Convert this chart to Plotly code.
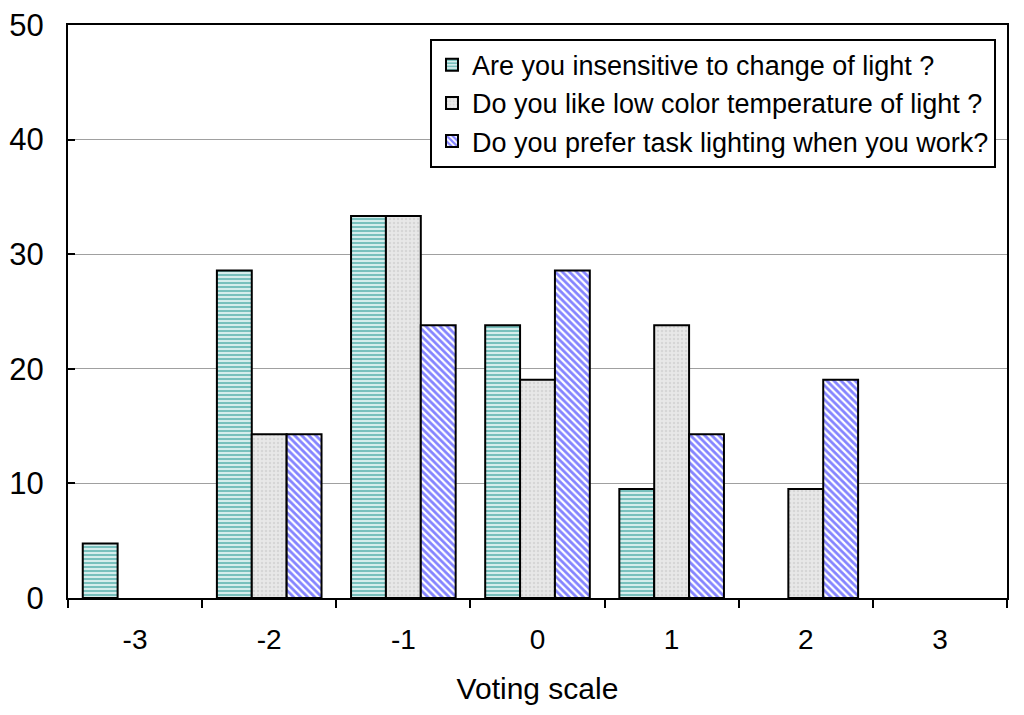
import plotly.graph_objects as go

categories = ["-3", "-2", "-1", "0", "1", "2", "3"]
insensitive = [4.76, 28.57, 33.33, 23.81, 9.52, None, None]
low_color_temp = [None, 14.29, 33.33, 19.05, 23.81, 9.52, None]
task_lighting = [None, 14.29, 23.81, 28.57, 14.29, 19.05, None]
names = ["Are you insensitive to change of light ?",
         "Do you like low color temperature of light ?",
         "Do you prefer task lighting when you work?"]

fig = go.Figure()
fig.add_bar(x=categories, y=insensitive, name=names[0],
            marker=dict(color="#d9efee", line=dict(color="black", width=2),
                        pattern=dict(shape="-", fgcolor="#128e8a", bgcolor="#dff2f1",
                                     size=4, solidity=0.55)))
fig.add_bar(x=categories, y=low_color_temp, name=names[1],
            marker=dict(color="#e4e4e4", line=dict(color="black", width=2),
                        pattern=dict(shape=".", fgcolor="#c4c4c4", bgcolor="#e8e8e8",
                                     size=4, solidity=0.3)))
fig.add_bar(x=categories, y=task_lighting, name=names[2],
            marker=dict(color="white", line=dict(color="black", width=2),
                        pattern=dict(shape="\\", fgcolor="#0a0aff", bgcolor="white",
                                     size=5, solidity=0.55)))

fig.update_layout(
    width=1016, height=707,
    margin=dict(l=60, r=17, t=17, b=117),
    paper_bgcolor="white", plot_bgcolor="white",
    barmode="group", bargap=0.22, bargroupgap=0,
    font=dict(family="Liberation Sans, Arial, sans-serif", color="black", size=26),
    showlegend=True,
    legend=dict(x=0.3855, y=0.976, xanchor="left", yanchor="top",
                bgcolor="white", bordercolor="black", borderwidth=2,
                font=dict(size=27), tracegroupgap=0, itemwidth=30),
    xaxis=dict(type="category", tickson="boundaries", ticks="outside", ticklen=8,
               tickwidth=2, tickcolor="black", showline=True, linecolor="black",
               linewidth=2, mirror=True, showgrid=False, tickfont=dict(size=28),
               ticklabelstandoff=15, automargin=False,
               title=dict(text="Voting scale", font=dict(size=30), standoff=24)),
    yaxis=dict(range=[0, 50], dtick=10, ticks="inside", ticklen=7, tickwidth=2,
               tickcolor="black", showline=True, linecolor="black", linewidth=2,
               mirror=True, showgrid=True, gridcolor="#a0a0a0", gridwidth=1,
               zeroline=False, tickfont=dict(size=31), ticklabelstandoff=16,
               ticklabeloverflow="allow", automargin=False),
)

fig.write_html("out.html")
